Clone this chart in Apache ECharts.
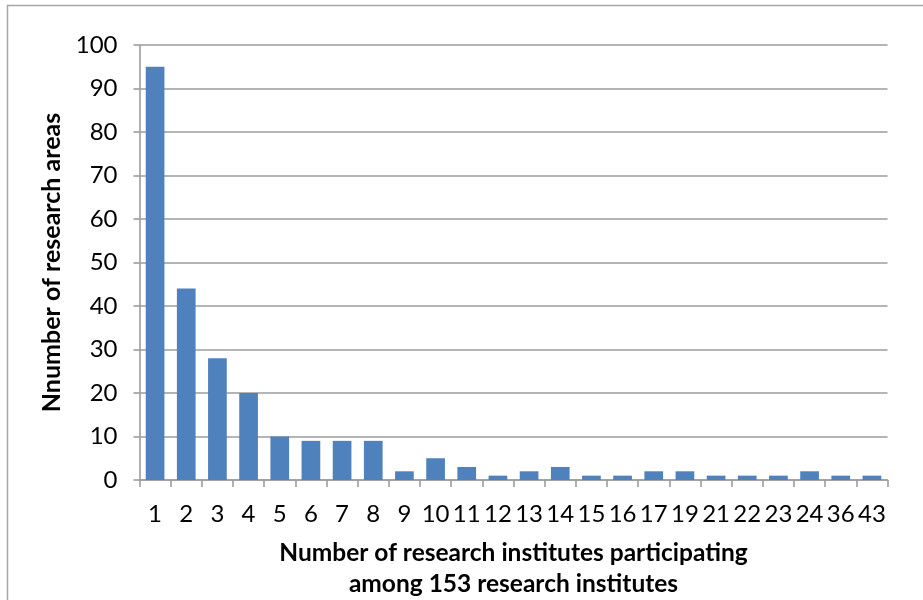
<!DOCTYPE html>
<html>
<head>
<meta charset="utf-8">
<script src="https://cdn.jsdelivr.net/npm/echarts@6/dist/echarts.min.js"></script>
<style>
html,body{margin:0;padding:0;background:#fff;}
#chart{width:923px;height:600px;}
</style>
</head>
<body>
<div id="chart"></div>
<script>
var categories = ['1','2','3','4','5','6','7','8','9','10','11','12','13','14','15','16','17','19','21','22','23','24','36','43'];
var values = [95,44,28,20,10,9,9,9,2,5,3,1,2,3,1,1,2,2,1,1,1,2,1,1];
var yTitle = 'Nnumber of research areas';
var xTitle = 'Number of research institutes participating\namong 153 research institutes';

var chart = echarts.init(document.getElementById('chart'), null, {renderer:'canvas'});
var gridColor = '#9c9c9c';
var font = 'Lato';
chart.setOption({
  animation: false,
  backgroundColor: '#fff',
  graphic: [{
    type: 'rect',
    shape: {x: 7.5, y: 5.5, width: 940, height: 620},
    style: {fill: 'none', stroke: '#a6a6a6', lineWidth: 1.5},
    silent: true
  }],
  grid: {left: 139.5, right: 35.5, top: 45, bottom: 120, containLabel: false, outerBoundsMode: 'none'},
  xAxis: {
    type: 'category',
    data: categories,
    boundaryGap: true,
    axisLine: {show: true, lineStyle: {color: gridColor, width: 1.6}},
    axisTick: {show: true, length: 7, lineStyle: {color: gridColor, width: 1.6}},
    axisLabel: {interval: 0, color: '#000', fontFamily: font, fontSize: 24, margin: 22},
    name: xTitle,
    nameLocation: 'middle',
    nameGap: 58,
    nameTextStyle: {color: '#000', fontFamily: font, fontWeight: 'bold', fontSize: 24.5, lineHeight: 31}
  },
  yAxis: {
    type: 'value',
    min: 0, max: 100, interval: 10,
    axisLine: {show: true, lineStyle: {color: gridColor, width: 1.6}},
    axisTick: {show: true, length: 6, lineStyle: {color: gridColor, width: 1.6}},
    splitLine: {show: true, lineStyle: {color: gridColor, width: 1.6}},
    axisLabel: {color: '#000', fontFamily: font, fontSize: 24, margin: 22},
    name: yTitle,
    nameLocation: 'middle',
    nameGap: 74,
    nameRotate: 90,
    nameTextStyle: {color: '#000', fontFamily: font, fontWeight: 'bold', fontSize: 25}
  },
  series: [{
    type: 'bar',
    data: values,
    barWidth: '60%',
    itemStyle: {color: '#4f81bd'}
  }]
});
</script>
</body>
</html>
